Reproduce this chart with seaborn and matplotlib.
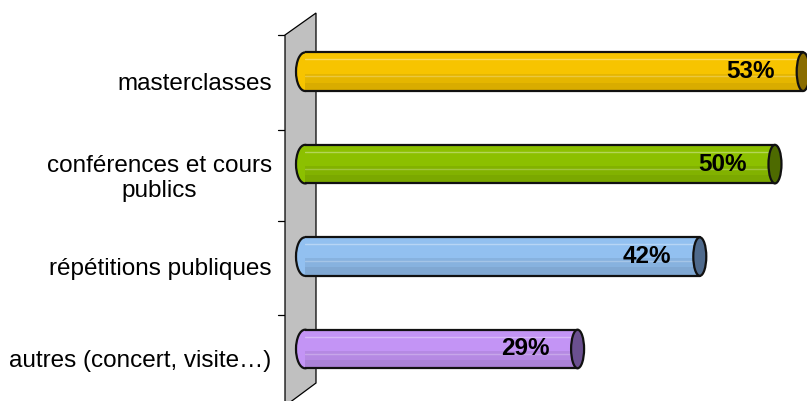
import matplotlib
matplotlib.use('Agg')
import matplotlib.pyplot as plt
import matplotlib.transforms as mtransforms
from matplotlib.patches import Ellipse, Polygon, Rectangle
import numpy as np
import pandas as pd
import seaborn as sns

# Data
categories = ['masterclasses', 'conférences et cours\npublics',
              'répétitions publiques', 'autres (concert, visite…)']
values = [53, 50, 42, 29]
value_labels = ['53%', '50%', '42%', '29%']

# Colours: body, cap
bar_colors = ['#F7C400', '#8CC000', '#92C0F0', '#C394F5']
cap_colors = ['#8A6D00', '#4D6A00', '#4F6A8C', '#6B5090']

W, H = 807, 401
sns.set_theme(style='white')
plt.rcParams['font.family'] = ['Liberation Sans', 'DejaVu Sans']

fig = plt.figure(figsize=(W / 100, H / 100), dpi=100)
fig.patch.set_facecolor('white')

# Grey back wall (3D look)
def fpt(x, y):
    return (x / W, 1 - y / H)

wall = Polygon([fpt(285, 35), fpt(316, 13), fpt(316, 383), fpt(285, 406)],
               closed=True, transform=fig.transFigure, facecolor='#C0C0C0',
               edgecolor='black', linewidth=0.9, zorder=-1)
fig.patches.append(wall)
for ty in [35, 130, 221, 315]:
    fig.add_artist(plt.Line2D([278 / W, 285 / W], [1 - ty / H, 1 - ty / H],
                              transform=fig.transFigure, color='black',
                              linewidth=0.9, zorder=-1))

# Main axes
ax = fig.add_axes([305 / W, (H - 395.2) / H, 501 / W, 369.7 / H])
ax.set_facecolor('none')

df = pd.DataFrame({'cat': categories, 'val': values})
sns.barplot(data=df, x='val', y='cat', hue='cat', palette=bar_colors,
            orient='h', width=0.417, linewidth=0, saturation=1,
            legend=False, ax=ax)

ax.set_xlim(0, 53.3)
ax.set_ylim(3.5, -0.5)
xscale = 501 / 53.3

bars = sorted(ax.patches, key=lambda p: p.get_y())
for i, p in enumerate(bars):
    x0, w = p.get_x(), p.get_width()
    y0, h = p.get_y(), p.get_height()
    p.set_zorder(3)
    # shading stripes
    ax.add_patch(Rectangle((x0, y0 + h * 0.55), w, h * 0.45, facecolor='black',
                           alpha=0.07, linewidth=0, zorder=3.1))
    ax.add_patch(Rectangle((x0, y0 + h * 0.78), w, h * 0.22, facecolor='black',
                           alpha=0.05, linewidth=0, zorder=3.1))
    ax.plot([x0, x0 + w], [y0 + h * 0.18] * 2, color='white', alpha=0.35,
            linewidth=1, zorder=3.2)
    ax.plot([x0, x0 + w], [y0 + h * 0.62] * 2, color='white', alpha=0.25,
            linewidth=1, zorder=3.2)
    # outline top/bottom
    ax.plot([x0, x0 + w], [y0, y0], color='#111111', linewidth=1.6, zorder=4)
    ax.plot([x0, x0 + w], [y0 + h, y0 + h], color='#111111', linewidth=1.6, zorder=4)
    # left end
    ax.add_patch(Ellipse((x0, y0 + h / 2), 18 / xscale, h, facecolor=bar_colors[i],
                         edgecolor='#111111', linewidth=1.6, zorder=2, clip_on=False))
    # right cap
    ax.add_patch(Ellipse((x0 + w, y0 + h / 2), 13 / xscale, h, facecolor=cap_colors[i],
                         edgecolor='#111111', linewidth=1.6, zorder=5, clip_on=False))
    ax.text(values[i] - 5.6, y0 + h / 2, value_labels[i], ha='center', va='center',
            fontsize=17.5, fontweight='bold', color='black', zorder=6)

for s in ax.spines.values():
    s.set_visible(False)
ax.set_xlabel('')
ax.set_ylabel('')
ax.set_xticks([])
ax.set_yticks(range(len(categories)))
ax.set_yticklabels(categories, fontsize=17.5, color='black', multialignment='center')
ax.tick_params(axis='y', length=0, pad=24)
offset = mtransforms.ScaledTranslation(0, -0.10, fig.dpi_scale_trans)
for lab in ax.get_yticklabels():
    lab.set_transform(lab.get_transform() + offset)

fig.savefig('out.png', dpi=100, facecolor='white')
